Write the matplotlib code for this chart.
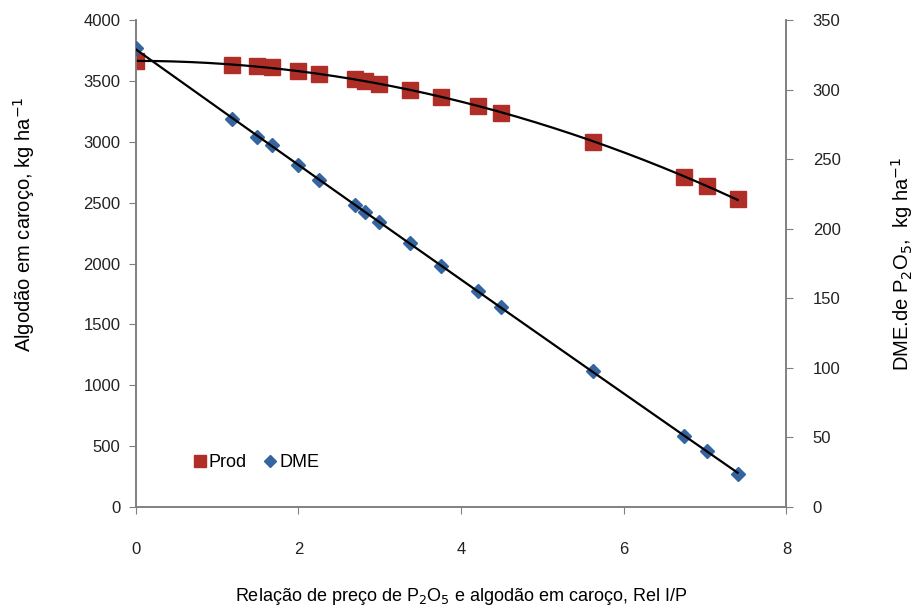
import numpy as np
import matplotlib.pyplot as plt

plt.rcParams['font.family'] = ['Liberation Sans', 'DejaVu Sans']

# price ratio (Rel I/P)
rel_ip = [0, 1.19, 1.49, 1.68, 2.0, 2.25, 2.70, 2.82, 2.99, 3.37, 3.75, 4.21, 4.49, 5.62, 6.74, 7.03, 7.40]
# seed cotton yield, kg/ha
prod = [3663, 3630, 3620, 3612, 3585, 3560, 3515, 3500, 3480, 3430, 3370, 3295, 3240, 3000, 2715, 2635, 2530]
# economic optimum dose of P2O5, kg/ha
dme = [330, 279, 266, 260, 246, 235, 217, 212, 205, 190, 173, 155, 144, 98, 51, 40, 24]

c_prod = '#B02E28'
c_dme = '#3565A0'
grey = '#808080'

fig = plt.figure(figsize=(9.23, 6.13), dpi=100)
ax = fig.add_axes([0.147, 0.173, 0.705, 0.794])
ax2 = ax.twinx()

x = np.array(rel_ip)
xs = np.linspace(x.min(), x.max(), 200)

# Excel-like polynomial trendlines
p1 = np.polyfit(x, prod, 2)
p2 = np.polyfit(x, dme, 2)

ax.plot(x, prod, 's', color=c_prod, markersize=11, label='Prod', zorder=3)
ax.plot(xs, np.polyval(p1, xs), color='black', lw=1.6, zorder=4)
ax2.plot(x, dme, 'D', color=c_dme, markersize=7.5, label='DME', zorder=3)
ax2.plot(xs, np.polyval(p2, xs), color='black', lw=1.6, zorder=4)

ax.set_xlim(0, 8)
ax.set_ylim(0, 4000)
ax2.set_ylim(0, 350)
ax.set_xticks([0, 2, 4, 6, 8])
ax.set_yticks(range(0, 4001, 500))
ax2.set_yticks(range(0, 351, 50))

for a in (ax, ax2):
    a.spines['top'].set_visible(False)
    for s in ('left', 'right', 'bottom'):
        a.spines[s].set_color(grey)
        a.spines[s].set_linewidth(1.2)
    a.tick_params(colors=grey, labelcolor='#222222', labelsize=12, length=5, direction='out')
ax.tick_params(axis='x', pad=20)
ax.tick_params(axis='y', pad=6)
ax2.tick_params(axis='y', pad=14)

ax.set_xlabel('Relação de preço de P$_2$O$_5$ e algodão em caroço, Rel I/P', fontsize=13, va='center')
ax.xaxis.set_label_coords(0.5, -0.185)
ax.set_ylabel('Algodão em caroço, kg ha$^{\\mathsf{-1}}$', fontsize=14.5, va='center')
ax.yaxis.set_label_coords(-0.171, 0.58)
ax2.set_ylabel('DME.de P$_2$O$_5$,  kg ha$^{\\mathsf{-1}}$', fontsize=14.5, va='center', rotation=90)
ax2.yaxis.set_label_coords(1.177, 0.5)

h1, l1 = ax.get_legend_handles_labels()
h2, l2 = ax2.get_legend_handles_labels()
ax.legend(h1 + h2, l1 + l2, loc='lower left', bbox_to_anchor=(0.065, 0.04), ncol=2,
          frameon=False, fontsize=13, handlelength=0.6, handletextpad=0.2, columnspacing=1.0,
          markerscale=0.85)

fig.savefig('out.png', dpi=100)
